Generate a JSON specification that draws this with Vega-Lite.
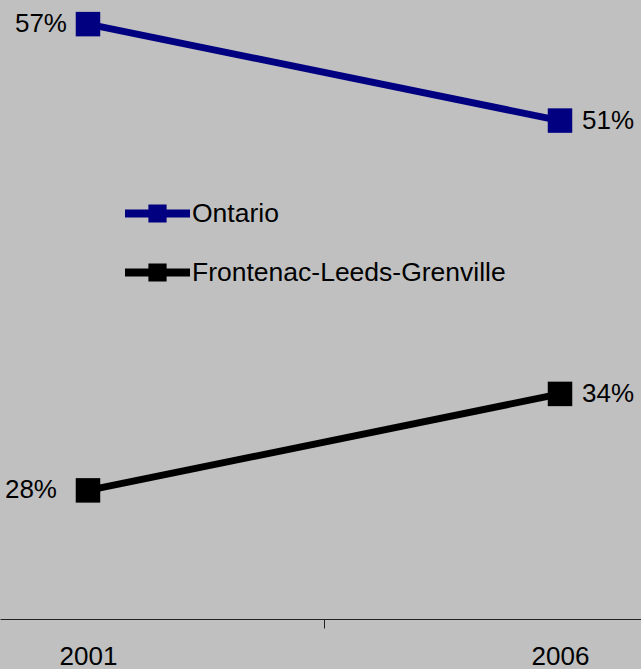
{
  "$schema": "https://vega.github.io/schema/vega-lite/v6.json",
  "width": 641,
  "height": 619,
  "padding": 0,
  "background": "#C0C0C0",
  "config": {"view": {"stroke": null}, "font": "Liberation Sans"},
  "data": {"values": [
    {"series": "Ontario", "year": 2001, "value": 57, "label": "57%"},
    {"series": "Ontario", "year": 2006, "value": 51, "label": "51%"},
    {"series": "Frontenac-Leeds-Grenville", "year": 2001, "value": 28, "label": "28%"},
    {"series": "Frontenac-Leeds-Grenville", "year": 2006, "value": 34, "label": "34%"}
  ]},
  "encoding": {
    "x": {"field": "year", "type": "quantitative",
      "scale": {"domain": [2000.068, 2006.858], "nice": false, "zero": false},
      "axis": {"values": [2001, 2003.5, 2006], "grid": false, "title": null,
        "domainColor": "#222222", "domainWidth": 1.2,
        "tickColor": "#222222", "tickSize": 9, "tickWidth": 1,
        "tickOpacity": {"condition": {"test": "datum.value == 2003.5", "value": 1}, "value": 0},
        "labelExpr": "datum.value == 2003.5 ? '' : format(datum.value, 'd')",
        "labelFontSize": 26, "labelColor": "#000000", "labelPadding": 15,
        "labelFont": "Liberation Sans", "labelOverlap": false, "labelFlush": false}},
    "y": {"field": "value", "type": "quantitative",
      "scale": {"domain": [20, 58.5], "nice": false, "zero": false}, "axis": null},
    "color": {"field": "series", "type": "nominal",
      "scale": {"domain": ["Ontario", "Frontenac-Leeds-Grenville"], "range": ["#000080", "#000000"]}}
  },
  "layer": [
    {"mark": {"type": "line", "strokeWidth": 7},
     "encoding": {"color": {"field": "series", "type": "nominal", "legend": {
        "orient": "none", "legendX": 125, "legendY": 181, "title": null,
        "symbolType": "M-1,-0.12H-0.28V-0.28H0.28V-0.12H1V0.12H0.28V0.28H-0.28V0.12H-1Z",
        "symbolSize": 4225, "symbolStrokeWidth": 0, "symbolOpacity": 1,
        "labelFontSize": 26.5, "labelColor": "#000000", "labelFont": "Liberation Sans",
        "labelOffset": 2, "labelLimit": 0, "rowPadding": 13, "padding": 0
     }}}},
    {"mark": {"type": "point", "shape": "square", "size": 600, "filled": true, "opacity": 1}},
    {"transform": [{"filter": "datum.year == 2006"}],
     "mark": {"type": "text", "align": "left", "baseline": "middle", "dx": 22, "fontSize": 26, "color": "#000000"},
     "encoding": {"text": {"field": "label"}, "color": {"value": "#000000"}}},
    {"transform": [{"filter": "datum.year == 2001 && datum.series == 'Ontario'"}],
     "mark": {"type": "text", "align": "right", "baseline": "middle", "dx": -21, "fontSize": 26, "color": "#000000"},
     "encoding": {"text": {"field": "label"}, "color": {"value": "#000000"}}},
    {"transform": [{"filter": "datum.year == 2001 && datum.series != 'Ontario'"}],
     "mark": {"type": "text", "align": "right", "baseline": "middle", "dx": -31, "fontSize": 26, "color": "#000000"},
     "encoding": {"text": {"field": "label"}, "color": {"value": "#000000"}}}
  ]
}
